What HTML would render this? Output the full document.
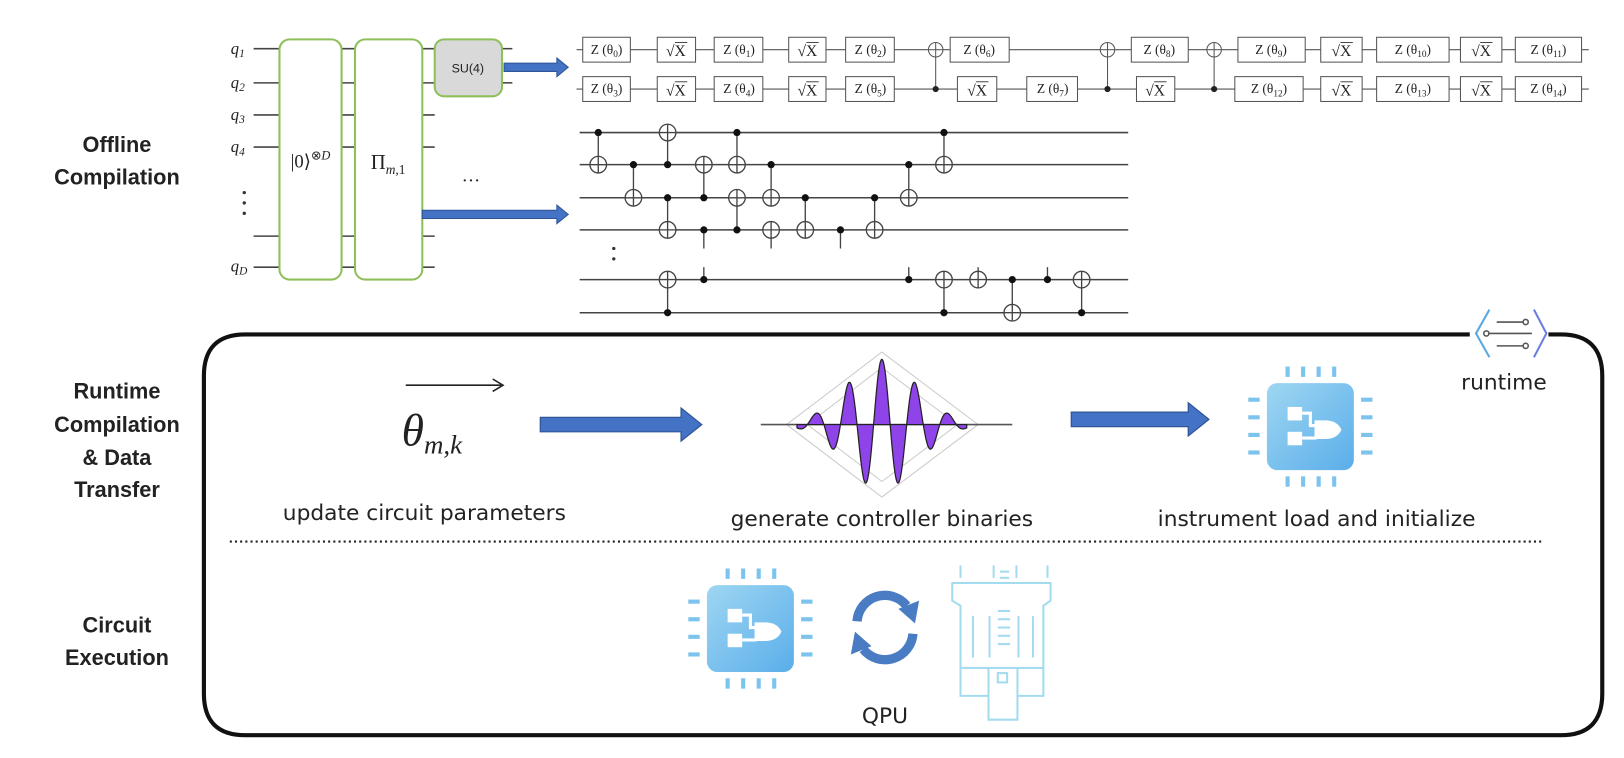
<!DOCTYPE html>
<html><head><meta charset="utf-8">
<style>
html,body{margin:0;padding:0;background:#fff;}
svg{display:block;}
.lbl{font-family:"Liberation Sans",sans-serif;font-weight:bold;font-size:21px;fill:#222;text-anchor:middle;}
.cap{font-family:"DejaVu Sans","Liberation Sans",sans-serif;font-size:21px;fill:#222;text-anchor:middle;}
.g{font-family:"Liberation Serif",serif;font-size:13px;fill:#222;text-anchor:middle;}
.q{font-family:"Liberation Serif",serif;font-style:italic;font-size:16px;fill:#222;}
</style></head>
<body>
<svg id="s" width="1624" height="758" viewBox="0 0 1569 732" preserveAspectRatio="none" xmlns="http://www.w3.org/2000/svg">
<defs>
<linearGradient id="cg" x1="0" y1="0" x2="1" y2="1">
<stop offset="0" stop-color="#9fd6f2"/><stop offset="1" stop-color="#5aaeea"/>
</linearGradient>
<symbol id="chip" viewBox="-20 -20 124 124" overflow="visible">
<g stroke="#7cc4ee" stroke-width="4">
<line x1="20" y1="-16" x2="20" y2="-6"/><line x1="35" y1="-16" x2="35" y2="-6"/><line x1="50" y1="-16" x2="50" y2="-6"/><line x1="65" y1="-16" x2="65" y2="-6"/>
<line x1="20" y1="90" x2="20" y2="100"/><line x1="35" y1="90" x2="35" y2="100"/><line x1="50" y1="90" x2="50" y2="100"/><line x1="65" y1="90" x2="65" y2="100"/>
<line x1="-18" y1="16" x2="-7" y2="16"/><line x1="-18" y1="33" x2="-7" y2="33"/><line x1="-18" y1="50" x2="-7" y2="50"/><line x1="-18" y1="67" x2="-7" y2="67"/>
<line x1="91" y1="16" x2="102" y2="16"/><line x1="91" y1="33" x2="102" y2="33"/><line x1="91" y1="50" x2="102" y2="50"/><line x1="91" y1="67" x2="102" y2="67"/>
</g>
<rect x="0" y="0" width="84" height="84" rx="10" fill="url(#cg)"/>
<g fill="#fff">
<rect x="20" y="23" width="14" height="13"/><rect x="20" y="47" width="14" height="13"/>
<path d="M46,36 L56,36 Q68,36 72,45 Q68,54 56,54 L46,54 Z"/>
</g>
<g stroke="#fff" stroke-width="3" fill="none">
<polyline points="34,29 42,29 42,41 48,41"/><polyline points="34,53 48,53"/>
</g>
</symbol>
</defs>

<!-- left labels -->
<text class="lbl" x="113" y="147">Offline</text>
<text class="lbl" x="113" y="178">Compilation</text>
<text class="lbl" x="113" y="385">Runtime</text>
<text class="lbl" x="113" y="417">Compilation</text>
<text class="lbl" x="113" y="449">&amp; Data</text>
<text class="lbl" x="113" y="480">Transfer</text>
<text class="lbl" x="113" y="611">Circuit</text>
<text class="lbl" x="113" y="642">Execution</text>

<!-- left circuit -->
<g stroke="#444" stroke-width="1.5">
<line x1="245" y1="47" x2="420" y2="47"/><line x1="245" y1="80" x2="420" y2="80"/>
<line x1="485" y1="47" x2="495" y2="47"/><line x1="485" y1="80" x2="495" y2="80"/>
<line x1="245" y1="111" x2="420" y2="111"/><line x1="245" y1="142" x2="420" y2="142"/>
<line x1="245" y1="228" x2="420" y2="228"/><line x1="245" y1="258" x2="420" y2="258"/>
</g>
<text class="q" x="223" y="52">q<tspan font-size="11" dy="3">1</tspan></text>
<text class="q" x="223" y="85">q<tspan font-size="11" dy="3">2</tspan></text>
<text class="q" x="223" y="116">q<tspan font-size="11" dy="3">3</tspan></text>
<text class="q" x="223" y="147">q<tspan font-size="11" dy="3">4</tspan></text>
<text class="q" x="223" y="262">q<tspan font-size="11" dy="3">D</tspan></text>
<g fill="#333"><circle cx="236" cy="186" r="1.6"/><circle cx="236" cy="196" r="1.6"/><circle cx="236" cy="206" r="1.6"/></g>
<rect x="270" y="38" width="60" height="232" rx="10" fill="#fff" stroke="#8dbf5a" stroke-width="2"/>
<rect x="343" y="38" width="65" height="232" rx="10" fill="#fff" stroke="#8dbf5a" stroke-width="2"/>
<rect x="420" y="38" width="65" height="55" rx="9" fill="#d9d9d9" stroke="#8dbf5a" stroke-width="2"/>
<text x="452" y="70" font-family="Liberation Sans,sans-serif" font-size="12" text-anchor="middle" fill="#222">SU(4)</text>
<text x="300" y="162" font-family="Liberation Serif,serif" font-size="18" text-anchor="middle" fill="#222">|0⟩<tspan font-size="12" dy="-8">⊗<tspan font-style="italic">D</tspan></tspan></text>
<text x="375" y="163" font-family="Liberation Serif,serif" font-size="20" text-anchor="middle" fill="#222">Π<tspan font-size="13" dy="5" font-style="italic">m</tspan><tspan font-size="13">,1</tspan></text>
<text x="455" y="180" font-family="Liberation Serif,serif" font-size="18" text-anchor="middle" fill="#222">···</text>
<g fill="#4472c4" stroke="#2f5597" stroke-width="1">
<path d="M487,61 L538,61 L538,56 L549,65 L538,74 L538,69 L487,69 Z"/>
<path d="M408,203 L538,203 L538,198 L549,207 L538,216 L538,211 L408,211 Z"/>
</g>

<!-- top gate rows -->
<g stroke="#555" stroke-width="1">
<line x1="557" y1="48" x2="1535" y2="48"/><line x1="557" y1="86" x2="1535" y2="86"/>
<line x1="904" y1="48" x2="904" y2="86"/><line x1="1070" y1="48" x2="1070" y2="86"/><line x1="1173" y1="48" x2="1173" y2="86"/>
</g>
<g id="gates" fill="#fff" stroke="#555" stroke-width="1"></g>
<g fill="#222">
<circle cx="904" cy="86" r="3"/><circle cx="1070" cy="86" r="3"/><circle cx="1173" cy="86" r="3"/>
</g>
<g fill="#fff" stroke="#555" stroke-width="1">
<circle cx="904" cy="48" r="7"/><circle cx="1070" cy="48" r="7"/><circle cx="1173" cy="48" r="7"/>
</g>
<g stroke="#555" stroke-width="1">
<line x1="897" y1="48" x2="911" y2="48"/><line x1="1063" y1="48" x2="1077" y2="48"/><line x1="1166" y1="48" x2="1180" y2="48"/>
<line x1="904" y1="41" x2="904" y2="55"/><line x1="1070" y1="41" x2="1070" y2="55"/><line x1="1173" y1="41" x2="1173" y2="55"/>
</g>
<g class="g">
<text x="586" y="52">Z (θ<tspan font-size="9" dy="3">0</tspan><tspan dy="-3">)</tspan></text>
<text x="714" y="52">Z (θ<tspan font-size="9" dy="3">1</tspan><tspan dy="-3">)</tspan></text>
<text x="841" y="52">Z (θ<tspan font-size="9" dy="3">2</tspan><tspan dy="-3">)</tspan></text>
<text x="946" y="52">Z (θ<tspan font-size="9" dy="3">6</tspan><tspan dy="-3">)</tspan></text>
<text x="1120" y="52">Z (θ<tspan font-size="9" dy="3">8</tspan><tspan dy="-3">)</tspan></text>
<text x="1228" y="52">Z (θ<tspan font-size="9" dy="3">9</tspan><tspan dy="-3">)</tspan></text>
<text x="1365" y="52">Z (θ<tspan font-size="9" dy="3">10</tspan><tspan dy="-3">)</tspan></text>
<text x="1496" y="52">Z (θ<tspan font-size="9" dy="3">11</tspan><tspan dy="-3">)</tspan></text>
<text x="586" y="90">Z (θ<tspan font-size="9" dy="3">3</tspan><tspan dy="-3">)</tspan></text>
<text x="714" y="90">Z (θ<tspan font-size="9" dy="3">4</tspan><tspan dy="-3">)</tspan></text>
<text x="841" y="90">Z (θ<tspan font-size="9" dy="3">5</tspan><tspan dy="-3">)</tspan></text>
<text x="1017" y="90">Z (θ<tspan font-size="9" dy="3">7</tspan><tspan dy="-3">)</tspan></text>
<text x="1226" y="90">Z (θ<tspan font-size="9" dy="3">12</tspan><tspan dy="-3">)</tspan></text>
<text x="1365" y="90">Z (θ<tspan font-size="9" dy="3">13</tspan><tspan dy="-3">)</tspan></text>
<text x="1496" y="90">Z (θ<tspan font-size="9" dy="3">14</tspan><tspan dy="-3">)</tspan></text>
<text x="653" y="54" font-size="15">√X</text><text x="780" y="54" font-size="15">√X</text>
<text x="1296" y="54" font-size="15">√X</text><text x="1431" y="54" font-size="15">√X</text>
<text x="653" y="92" font-size="15">√X</text><text x="780" y="92" font-size="15">√X</text>
<text x="944" y="92" font-size="15">√X</text><text x="1116" y="92" font-size="15">√X</text>
<text x="1296" y="92" font-size="15">√X</text><text x="1431" y="92" font-size="15">√X</text>
</g>
<g id="ov" stroke="#222" stroke-width="0.8"></g>

<!-- CNOT circuit -->
<g id="cn"></g>
<g fill="#333"><circle cx="593" cy="240" r="1.6"/><circle cx="593" cy="250" r="1.6"/></g>

<!-- runtime box -->
<path d="M1420,323 L237,323 Q197,323 197,363 L197,670 Q197,710 237,710 L1508,710 Q1548,710 1548,670 L1548,363 Q1548,323 1508,323 L1496,323" fill="none" stroke="#111" stroke-width="4"/>
<path d="M1439,299 L1426,322 L1439,345" fill="none" stroke="#5aa8e0" stroke-width="2"/>
<path d="M1482,299 L1494,322 L1482,345" fill="none" stroke="#6a7ee0" stroke-width="2"/>
<g stroke="#555" stroke-width="1.5" fill="#fff">
<line x1="1446" y1="311" x2="1472" y2="311"/><line x1="1438" y1="322" x2="1480" y2="322"/><line x1="1446" y1="334" x2="1472" y2="334"/>
<circle cx="1474" cy="311" r="2.5"/><circle cx="1436" cy="322" r="2.5"/><circle cx="1474" cy="334" r="2.5"/>
</g>
<text class="cap" x="1453" y="376">runtime</text>

<!-- theta -->
<line x1="392" y1="372" x2="484" y2="372" stroke="#222" stroke-width="1.5"/>
<path d="M476,366 L486,372 L476,378" fill="none" stroke="#222" stroke-width="1.5"/>
<text x="388" y="430" font-family="Liberation Serif,serif" font-style="italic" font-size="44" fill="#222">θ<tspan font-size="26" dy="8">m,k</tspan></text>
<text class="cap" x="410" y="502">update circuit parameters</text>
<g fill="#4472c4" stroke="#2f5597" stroke-width="1.2">
<path d="M522,403 L658,403 L658,394 L678,410 L658,426 L658,417 L522,417 Z"/>
<path d="M1035,398 L1148,398 L1148,389 L1168,405 L1148,421 L1148,412 L1035,412 Z"/>
</g>
<!-- wave -->
<g stroke="#ccc" stroke-width="1" fill="none">
<path d="M760,410 L852,340 L945,410 L852,480 Z"/>
<path d="M780,410 L852,355 L925,410 L852,465 Z"/>
</g>
<line x1="735" y1="410" x2="978" y2="410" stroke="#555" stroke-width="1.5"/>
<path id="wave" fill="#8e44e8" stroke="#222" stroke-width="1.2"/>
<text class="cap" x="852" y="508">generate controller binaries</text>
<use href="#chip" x="1204" y="350" width="124" height="124"/>
<text class="cap" x="1272" y="508">instrument load and initialize</text>
<line x1="222" y1="523" x2="1492" y2="523" stroke="#222" stroke-width="2" stroke-dasharray="2,3"/>

<!-- QPU row -->
<use href="#chip" x="663" y="545" width="124" height="124"/>
<g fill="none" stroke="#3d6fb6" stroke-width="1.5">
<path d="M828,600 A27,27 0 0 1 876,585" stroke="#4a7cc4" stroke-width="9"/>
<path d="M882,612 A27,27 0 0 1 834,627" stroke="#4a7cc4" stroke-width="9"/>
</g>
<g fill="#4a7cc4"><path d="M868,588 L888,580 L884,602 Z"/><path d="M842,624 L822,632 L826,610 Z"/></g>
<g fill="none" stroke="#a4dcef" stroke-width="2">
<line x1="928" y1="546" x2="928" y2="558"/><line x1="960" y1="546" x2="960" y2="558"/><line x1="982" y1="546" x2="982" y2="558"/><line x1="1012" y1="546" x2="1012" y2="558"/>
<line x1="966" y1="552" x2="975" y2="552"/><line x1="966" y1="558" x2="975" y2="558"/>
<path d="M920,563 L1015,563 L1015,580 L1008,585 L1008,645 L928,645 L928,585 L920,580 Z"/>
<line x1="940" y1="595" x2="940" y2="635"/><line x1="956" y1="595" x2="956" y2="635"/><line x1="984" y1="595" x2="984" y2="635"/><line x1="998" y1="595" x2="998" y2="635"/>
<line x1="964" y1="590" x2="976" y2="590"/><line x1="964" y1="598" x2="976" y2="598"/><line x1="964" y1="606" x2="976" y2="606"/><line x1="964" y1="614" x2="976" y2="614"/><line x1="964" y1="622" x2="976" y2="622"/>
<path d="M928,645 L928,672 L955,672 M1008,645 L1008,672 L983,672"/>
<path d="M955,645 L955,695 L983,695 L983,645"/>
<rect x="964" y="650" width="9" height="9"/>
</g>
<text class="cap" x="855" y="698" font-size="19">QPU</text>
</svg>
<script>
(function(){
var NS="http://www.w3.org/2000/svg";
function el(p,t,a){var e=document.createElementNS(NS,t);for(var k in a)e.setAttribute(k,a[k]);p.appendChild(e);return e;}
var g=document.getElementById("gates"),ov=document.getElementById("ov");
var top=[[563,609],[635,672],[690,737],[762,798],[817,864],[918,975],[1093,1148],[1196,1261],[1276,1316],[1330,1400],[1411,1451],[1464,1528]];
var bot=[[563,609],[635,672],[690,737],[762,798],[817,864],[925,963],[992,1041],[1098,1135],[1193,1259],[1276,1316],[1330,1400],[1411,1451],[1464,1528]];
top.forEach(function(b){el(g,"rect",{x:b[0],y:36,width:b[1]-b[0],height:24});});
bot.forEach(function(b){el(g,"rect",{x:b[0],y:74,width:b[1]-b[0],height:24});});
[653,780,1296,1431].forEach(function(x){el(ov,"line",{x1:x-1,y1:41,x2:x+11,y2:41});el(ov,"line",{x1:x-1,y1:79,x2:x+11,y2:79});});
[944,1116].forEach(function(x){el(ov,"line",{x1:x-1,y1:79,x2:x+11,y2:79});});
var cn=document.getElementById("cn");
var W=[128,159,191,222,270,302];
W.forEach(function(y){el(cn,"line",{x1:560,y1:y,x2:1090,y2:y,stroke:"#444","stroke-width":1.5});});
function L(x,y1,y2){el(cn,"line",{x1:x,y1:y1,x2:x,y2:y2,stroke:"#444","stroke-width":1.3});}
function D(x,w){el(cn,"circle",{cx:x,cy:W[w],r:3.5,fill:"#111"});}
function P(x,w){var y=W[w];el(cn,"circle",{cx:x,cy:y,r:8,fill:"#fff",stroke:"#444","stroke-width":1.3});L(x,y-8,y+8);el(cn,"line",{x1:x-8,y1:y,x2:x+8,y2:y,stroke:"#444","stroke-width":1.3});}
function C(x,c,t){L(x,W[c],W[t]);P(x,t);D(x,c);}
C(578,0,1);C(612,1,2);C(645,1,0);C(645,2,3);C(645,5,4);
C(680,2,1);L(680,222,240);D(680,3);L(680,258,270);D(680,4);
C(712,0,1);C(712,3,2);C(745,1,2);L(745,222,240);P(745,3);
C(778,2,3);L(812,222,240);D(812,3);C(845,2,3);
C(878,1,2);L(878,258,270);D(878,4);
C(912,0,1);C(912,5,4);L(945,258,270);P(945,4);
C(978,4,5);L(1012,258,270);D(1012,4);C(1045,5,4);
var c=852,b=410,A=63,s=34,d="";
var x0=c-82,x1=c+82;d="M"+x0+","+b;
for(var x=x0;x<=x1;x+=0.5){var y=b-A*Math.exp(-(x-c)*(x-c)/(2*s*s))*Math.cos(2*Math.PI*(x-c)/32);d+=" L"+x.toFixed(1)+","+y.toFixed(1);}
d+=" L"+x1+","+b+" Z";
document.getElementById("wave").setAttribute("d",d);
})();
</script>
</body></html>
